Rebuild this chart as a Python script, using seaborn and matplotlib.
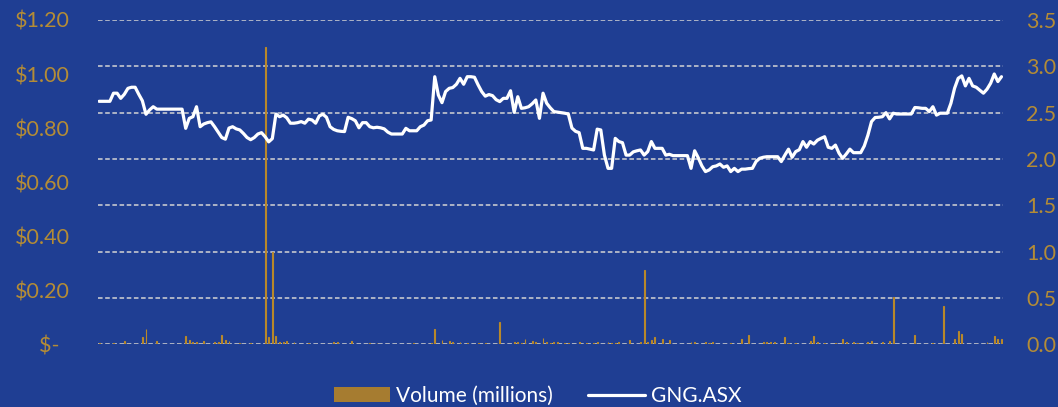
import matplotlib

matplotlib.use("Agg")
import matplotlib.pyplot as plt
import numpy as np
import seaborn as sns
from matplotlib.lines import Line2D
from matplotlib.patches import Patch

# GNG.ASX daily close ($)
price = [
    0.899, 0.899, 0.899, 0.899, 0.929, 0.929, 0.910, 0.925, 0.947, 0.951,
    0.951, 0.925, 0.901, 0.851, 0.867, 0.879, 0.870, 0.870, 0.870, 0.870,
    0.870, 0.870, 0.870, 0.870, 0.799, 0.836, 0.842, 0.879, 0.805, 0.815,
    0.820, 0.823, 0.805, 0.785, 0.765, 0.759, 0.800, 0.805, 0.797, 0.793,
    0.780, 0.765, 0.757, 0.765, 0.778, 0.783, 0.768, 0.749, 0.761, 0.852,
    0.842, 0.848, 0.838, 0.818, 0.818, 0.820, 0.824, 0.818, 0.833, 0.830,
    0.818, 0.845, 0.851, 0.840, 0.805, 0.795, 0.790, 0.788, 0.787, 0.840,
    0.835, 0.827, 0.801, 0.820, 0.820, 0.805, 0.801, 0.803, 0.801, 0.797,
    0.785, 0.778, 0.778, 0.778, 0.778, 0.799, 0.790, 0.790, 0.790, 0.805,
    0.811, 0.827, 0.830, 0.990, 0.922, 0.894, 0.935, 0.947, 0.950, 0.962,
    0.984, 0.962, 0.990, 0.990, 0.988, 0.960, 0.935, 0.918, 0.924, 0.920,
    0.905, 0.898, 0.910, 0.910, 0.938, 0.858, 0.916, 0.873, 0.875, 0.879,
    0.890, 0.904, 0.836, 0.929, 0.892, 0.875, 0.861, 0.859, 0.857, 0.855,
    0.852, 0.800, 0.788, 0.783, 0.725, 0.725, 0.722, 0.719, 0.796, 0.793,
    0.700, 0.651, 0.651, 0.762, 0.750, 0.746, 0.700, 0.700, 0.712, 0.716,
    0.719, 0.700, 0.713, 0.750, 0.725, 0.725, 0.725, 0.700, 0.703, 0.698,
    0.698, 0.698, 0.698, 0.698, 0.651, 0.716, 0.690, 0.660, 0.639, 0.645,
    0.657, 0.660, 0.667, 0.655, 0.660, 0.639, 0.651, 0.639, 0.648, 0.648,
    0.650, 0.651, 0.676, 0.688, 0.692, 0.694, 0.694, 0.694, 0.694, 0.676,
    0.700, 0.722, 0.692, 0.713, 0.720, 0.750, 0.729, 0.750, 0.741, 0.755,
    0.762, 0.768, 0.729, 0.725, 0.737, 0.707, 0.688, 0.704, 0.722, 0.709,
    0.709, 0.709, 0.734, 0.774, 0.824, 0.839, 0.840, 0.842, 0.857, 0.834,
    0.855, 0.852, 0.852, 0.852, 0.852, 0.852, 0.876, 0.875, 0.873, 0.873,
    0.861, 0.879, 0.848, 0.855, 0.855, 0.855, 0.892, 0.947, 0.984, 0.993,
    0.956, 0.984, 0.956, 0.951, 0.940, 0.929, 0.944, 0.966, 1.000, 0.972,
    0.990,
]

# daily volume (millions)
volume = [
    0.01, 0, 0, 0, 0.01, 0, 0, 0.036, 0, 0,
    0, 0, 0.08, 0.165, 0, 0, 0.036, 0, 0, 0,
    0, 0, 0, 0, 0.09, 0.043, 0.02, 0.02, 0, 0.036,
    0, 0, 0.02, 0.02, 0.10, 0.043, 0.036, 0, 0, 0.015,
    0, 0, 0.015, 0, 0, 0, 3.21, 0.08, 1.0, 0.09,
    0.03, 0.02, 0.036, 0, 0.02, 0, 0, 0, 0.01, 0,
    0, 0, 0, 0, 0, 0.02, 0.02, 0, 0, 0,
    0.036, 0, 0, 0, 0, 0.015, 0, 0.015, 0, 0,
    0, 0, 0, 0, 0, 0, 0, 0.01, 0, 0,
    0, 0, 0.015, 0.165, 0, 0.05, 0, 0.036, 0.02, 0,
    0.02, 0, 0.015, 0, 0, 0.015, 0, 0.01, 0, 0,
    0, 0.24, 0, 0, 0, 0.02, 0.02, 0.015, 0.06, 0,
    0.036, 0.03, 0, 0.065, 0.02, 0.015, 0.02, 0.02, 0, 0.015,
    0.015, 0, 0, 0.02, 0, 0.01, 0, 0.015, 0.02, 0,
    0, 0.03, 0.015, 0.015, 0.03, 0, 0, 0.043, 0, 0,
    0.03, 0.80, 0.02, 0.043, 0.08, 0, 0.06, 0, 0.043, 0,
    0, 0, 0, 0, 0.03, 0.02, 0, 0, 0.02, 0.01,
    0.02, 0, 0, 0, 0, 0.01, 0, 0, 0.054, 0,
    0.10, 0, 0, 0, 0.02, 0.02, 0.02, 0.03, 0, 0,
    0.08, 0.015, 0, 0.01, 0, 0, 0, 0.036, 0.094, 0.02,
    0, 0.01, 0, 0, 0.01, 0, 0.058, 0.02, 0, 0.03,
    0.01, 0, 0, 0.02, 0.036, 0, 0, 0.03, 0, 0.036,
    0.51, 0, 0, 0, 0, 0, 0.10, 0, 0, 0,
    0, 0.01, 0, 0, 0.41, 0, 0, 0.054, 0.144, 0.108,
    0, 0, 0, 0, 0, 0, 0.02, 0, 0.09, 0.054,
    0.054,
]

price_ticks = [0, 0.2, 0.4, 0.6, 0.8, 1.0, 1.2]
price_labels = ["$-  ", "$0.20", "$0.40", "$0.60", "$0.80", "$1.00", "$1.20"]
volume_ticks = [0, 0.5, 1.0, 1.5, 2.0, 2.5, 3.0, 3.5]

BG = "#1F3E93"
GOLD = "#B48C36"
BAR = "#B8882A"


def main():
    sns.set_theme(style="white")
    plt.rcParams["font.family"] = ["Lato", "DejaVu Sans"]

    days = np.arange(len(price))

    fig = plt.figure(figsize=(10.58, 4.07), dpi=100, facecolor=BG)
    ax_vol = fig.add_axes([0.0926, 0.154, 0.855, 0.797])
    ax_vol.set_facecolor(BG)
    ax_price = ax_vol.twinx()
    ax_price.patch.set_visible(False)

    sns.barplot(
        x=days, y=volume, ax=ax_vol, color=BAR, width=0.25,
        native_scale=True, errorbar=None, linewidth=0.8, edgecolor=BAR,
        saturation=1,
    )
    sns.lineplot(x=days, y=price, ax=ax_price, color="white", linewidth=2.3)

    ax_vol.set_xlim(-0.3, len(price) - 0.7)
    ax_vol.set_ylim(0, 3.5)
    ax_price.set_ylim(0, 1.2)

    ax_vol.set_yticks(volume_ticks)
    ax_vol.set_yticklabels([f"{v:.1f}" for v in volume_ticks])
    ax_vol.yaxis.tick_right()
    ax_price.set_yticks(price_ticks)
    ax_price.set_yticklabels(price_labels)
    ax_price.yaxis.tick_left()

    ax_vol.tick_params(axis="y", length=0, pad=17, labelsize=15.5, labelcolor=GOLD)
    ax_price.tick_params(axis="y", length=0, pad=20, labelsize=15.5, labelcolor=GOLD)
    ax_vol.set_xticks([])
    ax_price.set_xticks([])
    for a in (ax_vol, ax_price):
        a.set_xlabel("")
        a.set_ylabel("")
        for s in a.spines.values():
            s.set_visible(False)

    ax_vol.yaxis.grid(True, color="#D4D4D4", linewidth=1.1, linestyle=(0, (3, 1.7)))
    ax_vol.set_axisbelow(True)

    handles = [
        Patch(facecolor="#A67C30", edgecolor="none"),
        Line2D([0], [0], color="white", linewidth=2.3),
    ]
    fig.legend(
        handles, ["Volume (millions)", "GNG.ASX"], loc="center",
        bbox_to_anchor=(0.508, 0.027), ncol=2, frameon=False, fontsize=15,
        labelcolor="white", handlelength=2.7, handletextpad=0.3,
        columnspacing=1.7,
    )

    fig.savefig("out.png", dpi=100, facecolor=BG)


if __name__ == "__main__":
    main()
